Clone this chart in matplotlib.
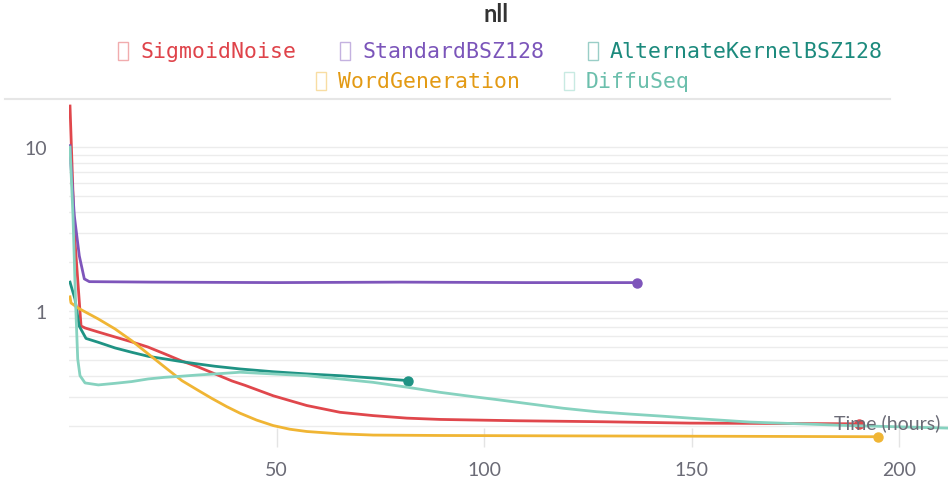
import matplotlib
matplotlib.use("Agg")
import matplotlib.pyplot as plt
from matplotlib.patches import Rectangle
from matplotlib.ticker import LogLocator, NullFormatter, FixedLocator, FixedFormatter

# ---- data (time in hours, nll) ----
LABELS = ["SigmoidNoise", "StandardBSZ128", "AlternateKernelBSZ128",
          "WordGeneration", "DiffuSeq"]
LINE_COLORS = ["#e0474c", "#7e55bb", "#1f9384", "#f0b534", "#86d2bf"]
TEXT_COLORS = ["#df434a", "#7b55ba", "#1c8a7d", "#e39a14", "#6bbfac"]

sig_t = [0.24, 1.28, 2.9, 3.86, 7.0, 11.1, 15.2, 19.0, 23.1, 27.2, 31.1,
         35.2, 39.3, 42.4, 49.2, 57.3, 65.3, 73.3, 81.4, 89.4, 107.9, 128.7,
         149.6, 170, 190.4]
sig_v = [17.8, 3.03, 0.81, 0.788, 0.745, 0.694, 0.647, 0.603, 0.547, 0.495,
         0.456, 0.413, 0.374, 0.352, 0.304, 0.265, 0.241, 0.230, 0.222, 0.218,
         0.214, 0.211, 0.207, 0.206, 0.205]

std_t = [0.24, 0.48, 1.28, 2.48, 3.69, 4.9, 20, 50, 80, 110, 136.9]
std_v = [10.2, 7.7, 3.81, 2.17, 1.57, 1.51, 1.50, 1.49, 1.50, 1.49, 1.49]

alt_t = [0.24, 1.45, 2.45, 4.1, 7.07, 11.1, 15.1, 19.1, 23.1, 27.1, 31.1,
         35.2, 41.2, 49.2, 57.3, 65.3, 73.3, 81.8]
alt_v = [1.50, 1.18, 0.81, 0.68, 0.644, 0.595, 0.56, 0.529, 0.510, 0.491,
         0.475, 0.460, 0.443, 0.426, 0.413, 0.403, 0.390, 0.376]

word_t = [0.24, 0.48, 2.24, 7.06, 11.1, 15.1, 19.1, 23.1, 27.2, 31.2, 34.4,
          38.0, 41.2, 45.2, 49.2, 53.2, 57.3, 65.3, 73.3, 89.4, 120, 160,
          194.9]
word_v = [1.22, 1.12, 1.04, 0.894, 0.777, 0.659, 0.547, 0.454, 0.376, 0.327,
          0.293, 0.261, 0.238, 0.216, 0.200, 0.190, 0.184, 0.178, 0.175,
          0.174, 0.173, 0.172, 0.171]

diff_t = [0.24, 0.96, 1.6, 2.1, 2.65, 3.86, 7.07, 11.1, 15.1, 19.1, 23.1,
          27.1, 31.1, 35.2, 41.2, 49.2, 57.3, 65.3, 73.3, 81.4, 89.4, 97.0,
          103.1, 111.1, 119.1, 127.1, 135.2, 143.2, 149.6, 164.1, 188.2, 211.8]
diff_v = [10.0, 3.81, 1.1, 0.51, 0.403, 0.364, 0.354, 0.362, 0.371, 0.385,
          0.394, 0.400, 0.407, 0.413, 0.423, 0.413, 0.403, 0.385, 0.367,
          0.343, 0.319, 0.301, 0.288, 0.271, 0.255, 0.243, 0.235, 0.228,
          0.222, 0.21, 0.20, 0.193]

SERIES = [(sig_t, sig_v), (std_t, std_v), (alt_t, alt_v),
          (word_t, word_v), (diff_t, diff_v)]

X_TICKS = [50, 100, 150, 200]
Y_TICKS = [1, 10]

# ---- figure ----
W, H = 948, 485
fig = plt.figure(figsize=(W / 100, H / 100), dpi=100)
ax = fig.add_axes([69 / W, (H - 448) / H, 879 / W, (448 - 102) / H])

for (t, v), c in zip(SERIES, LINE_COLORS):
    ax.plot(t, v, color=c, lw=2.0, solid_joinstyle="round")
    if t[-1] < 211:
        ax.plot(t[-1], v[-1], "o", color=c, ms=6.5)

ax.set_yscale("log")
ax.set_xlim(0, 211.8)
ax.set_ylim(0.148, 19.1)

ax.yaxis.set_major_locator(FixedLocator(Y_TICKS))
ax.yaxis.set_major_formatter(FixedFormatter([str(y) for y in Y_TICKS]))
ax.yaxis.set_minor_locator(LogLocator(base=10, subs=range(2, 10)))
ax.yaxis.set_minor_formatter(NullFormatter())
ax.set_xticks(X_TICKS)

ax.grid(True, which="both", axis="y", color="#ececec", lw=1)
ax.set_axisbelow(True)
for s in ax.spines.values():
    s.set_visible(False)

tick_col = "#6b6b76"
ax.tick_params(axis="y", which="both", length=0, pad=16, labelsize=14,
               labelcolor=tick_col)
ax.tick_params(axis="x", direction="in", length=14, width=1, color="#e4e4e4",
               pad=10, labelsize=14, labelcolor=tick_col)
for lab in ax.get_xticklabels() + ax.get_yticklabels():
    lab.set_family("Lato")

ax.text(0.992, (485 - 423) / H, "Time (hours)", transform=fig.transFigure,
        ha="right", va="center", fontsize=14, color=tick_col, family="Lato")

# ---- title & legend ----
fig.text(496 / W, 1 - 15 / H, "nll", ha="center", va="center",
         fontsize=17, color="#333333", family="Lato", fontweight="bold")

LEG_X = [118, 340, 588, 316, 564]
LEG_Y = [52, 52, 52, 82, 82]
for lab, tc, lc, lx, ly in zip(LABELS, TEXT_COLORS, LINE_COLORS, LEG_X, LEG_Y):
    fig.patches.append(Rectangle((lx / W, (H - ly - 9) / H), 10 / W, 18 / H,
                                 transform=fig.transFigure, fill=False,
                                 ec=lc, alpha=0.45, lw=1))
    fig.text((lx + 22) / W, 1 - ly / H, lab, ha="left", va="center",
             fontsize=15.5, color=tc, family="DejaVu Sans Mono")

fig.add_artist(plt.Line2D([5 / W, 890 / W], [1 - 100 / H, 1 - 100 / H],
                          transform=fig.transFigure, color="#e6e6e6", lw=1.5))

fig.savefig("out.png", dpi=100, facecolor="white")
